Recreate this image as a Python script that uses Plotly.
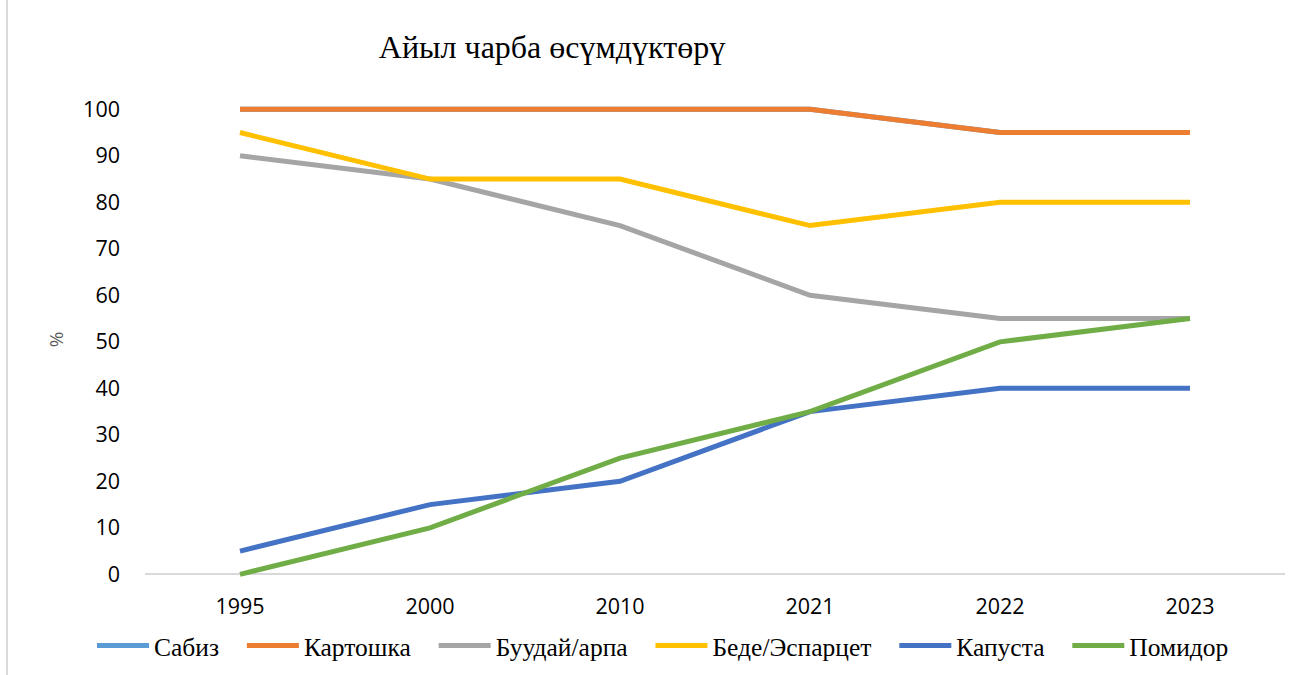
import plotly.graph_objects as go

years = ["1995", "2000", "2010", "2021", "2022", "2023"]
sabiz = [100, 100, 100, 100, 95, 95]
kartoshka = [100, 100, 100, 100, 95, 95]
buudai = [90, 85, 75, 60, 55, 55]
bede = [95, 85, 85, 75, 80, 80]
kapusta = [5, 15, 20, 35, 40, 40]
pomidor = [0, 10, 25, 35, 50, 55]

series = [
    ("Сабиз", sabiz, "#5B9BD5"),
    ("Картошка", kartoshka, "#ED7D31"),
    ("Буудай/арпа", buudai, "#A5A5A5"),
    ("Беде/Эспарцет", bede, "#FFC000"),
    ("Капуста", kapusta, "#4472C4"),
    ("Помидор", pomidor, "#70AD47"),
]

PAD = "\u2002\u2009"

fig = go.Figure()
for name, vals, color in series:
    fig.add_trace(go.Scatter(x=years, y=vals, name=name + PAD, mode="lines",
                             line=dict(color=color, width=5)))

L, R, T, B = 145, 21, 100, 96
W, H = 1306, 675
pw = W - L - R
ph = H - T - B

def px_x(p):
    return (p - L) / pw

def px_y(p):
    return (H - B - p) / ph

fig.update_layout(
    width=W, height=H,
    margin=dict(l=L, r=R, t=T, b=B, autoexpand=False),
    paper_bgcolor="white", plot_bgcolor="white",
    title=dict(text="Айыл чарба өсүмдүктөрү", x=552 / W, xanchor="center",
               y=1 - 47 / H, yanchor="middle", yref="container", automargin=False,
               font=dict(family="Liberation Serif", size=32, color="black")),
    showlegend=True,
    legend=dict(orientation="h", x=px_x(92), xanchor="left", y=px_y(646), yanchor="middle",
                font=dict(family="Liberation Serif", size=25.5, color="black"),
                bgcolor="rgba(0,0,0,0)", itemwidth=52, tracegroupgap=0),
    xaxis=dict(type="category", range=[-0.5, 5.5], showgrid=False, showline=False,
               zeroline=False, ticks="", ticklabelstandoff=12, automargin=False,
               tickfont=dict(family="Open Sans", size=21.5, color="black")),
    yaxis=dict(range=[-1, 102], tickvals=list(range(0, 101, 10)), showgrid=False,
               zeroline=True, zerolinecolor="#D9D9D9", zerolinewidth=1.5,
               showline=False, ticks="", ticklabelstandoff=24, automargin=False,
               tickfont=dict(family="Open Sans", size=21.5, color="black"),
               title=dict(text="%", standoff=14,
                          font=dict(family="Open Sans", size=19, color="#595959"))),
    shapes=[dict(type="line", xref="paper", yref="paper",
                 x0=px_x(7), x1=px_x(7), y0=px_y(0), y1=px_y(675),
                 line=dict(color="#D9D9D9", width=2))],
)

fig.write_html(
    "out.html",
    config={"displayModeBar": False},
    post_script="document.body.style.margin='0';document.body.style.padding='0';"
                "document.documentElement.style.overflow='hidden';",
)
